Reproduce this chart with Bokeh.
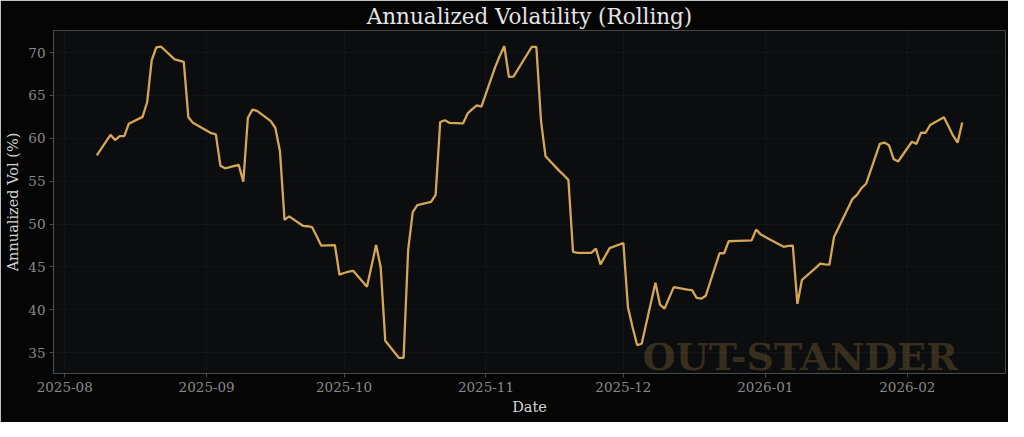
import pandas as pd
from bokeh.plotting import figure
from bokeh.models import Range1d, Label, DatetimeTickFormatter, MonthsTicker, SingleIntervalTicker
from bokeh.embed import file_html
from bokeh.resources import INLINE

title = "Annualized Volatility (Rolling)"
x_label = "Date"
y_label = "Annualized Vol (%)"
watermark = "OUT-STANDER"

dates = [
    "2025-08-08", "2025-08-11", "2025-08-12", "2025-08-13", "2025-08-14", "2025-08-15",
    "2025-08-18", "2025-08-19", "2025-08-20", "2025-08-21", "2025-08-22",
    "2025-08-25", "2025-08-26", "2025-08-27", "2025-08-28", "2025-08-29",
    "2025-09-02", "2025-09-03", "2025-09-04", "2025-09-05",
    "2025-09-08", "2025-09-09", "2025-09-10", "2025-09-11", "2025-09-12",
    "2025-09-15", "2025-09-16", "2025-09-17", "2025-09-18", "2025-09-19",
    "2025-09-22", "2025-09-23", "2025-09-24", "2025-09-25", "2025-09-26",
    "2025-09-29", "2025-09-30", "2025-10-01", "2025-10-02", "2025-10-03",
    "2025-10-06", "2025-10-07", "2025-10-08", "2025-10-09", "2025-10-10",
    "2025-10-13", "2025-10-14", "2025-10-15", "2025-10-16", "2025-10-17",
    "2025-10-20", "2025-10-21", "2025-10-22", "2025-10-23", "2025-10-24",
    "2025-10-27", "2025-10-28", "2025-10-29", "2025-10-30", "2025-10-31",
    "2025-11-03", "2025-11-04", "2025-11-05", "2025-11-06", "2025-11-07",
    "2025-11-10", "2025-11-11", "2025-11-12", "2025-11-13", "2025-11-14",
    "2025-11-17", "2025-11-18", "2025-11-19", "2025-11-20", "2025-11-21",
    "2025-11-24", "2025-11-25", "2025-11-26", "2025-11-28",
    "2025-12-01", "2025-12-02", "2025-12-03", "2025-12-04", "2025-12-05",
    "2025-12-08", "2025-12-09", "2025-12-10", "2025-12-11", "2025-12-12",
    "2025-12-15", "2025-12-16", "2025-12-17", "2025-12-18", "2025-12-19",
    "2025-12-22", "2025-12-23", "2025-12-24", "2025-12-26",
    "2025-12-29", "2025-12-30", "2025-12-31", "2026-01-02",
    "2026-01-05", "2026-01-06", "2026-01-07", "2026-01-08", "2026-01-09",
    "2026-01-12", "2026-01-13", "2026-01-14", "2026-01-15", "2026-01-16",
    "2026-01-20", "2026-01-21", "2026-01-22", "2026-01-23",
    "2026-01-26", "2026-01-27", "2026-01-28", "2026-01-29", "2026-01-30",
    "2026-02-02", "2026-02-03", "2026-02-04", "2026-02-05", "2026-02-06",
    "2026-02-09", "2026-02-10", "2026-02-11", "2026-02-12", "2026-02-13",
]

vol = [
    58.0, 60.4, 59.8, 60.25, 60.25, 61.7,
    62.5, 64.2, 69.1, 70.6, 70.7,
    69.2, 69.05, 68.9, 62.45, 61.8,
    60.6, 60.45, 56.8, 56.5,
    56.9, 54.95, 62.4, 63.35, 63.2,
    62.0, 61.2, 58.5, 50.5, 50.9,
    49.8, 49.75, 49.65, 48.6, 47.5,
    47.55, 44.1, 44.3, 44.45, 44.55,
    42.7, 45.1, 47.55, 45.0, 36.4,
    34.4, 34.4, 47.0, 51.4, 52.2,
    52.6, 53.4, 61.9, 62.1, 61.8,
    61.75, 62.9, 63.4, 63.85, 63.7,
    68.3, 69.6, 70.75, 67.15, 67.2,
    69.8, 70.65, 70.65, 62.1, 57.9,
    56.2, 55.7, 55.15, 46.75, 46.65,
    46.65, 47.15, 45.3, 47.2,
    47.8, 40.3, 38.0, 35.9, 36.05,
    43.15, 40.6, 40.15, 41.4, 42.65,
    42.35, 42.3, 41.4, 41.3, 41.65,
    46.6, 46.6, 48.0, 48.05,
    48.1, 49.35, 48.8, 48.2,
    47.35, 47.45, 47.5, 40.7, 43.5,
    44.9, 45.4, 45.3, 45.27, 48.5,
    52.9, 53.4, 54.2, 54.7,
    59.35, 59.5, 59.2, 57.6, 57.3,
    59.6, 59.35, 60.65, 60.65, 61.55,
    62.45, 61.4, 60.3, 59.5, 61.85,
]

x = pd.to_datetime(dates)

# matplotlib-like 5% padding computed from data
xmin, xmax = x.min(), x.max()
xpad = (xmax - xmin) * 0.05
ymin, ymax = min(vol), max(vol)
ypad = (ymax - ymin) * 0.05
x_range = Range1d(xmin - xpad, xmax + xpad)
y_range = Range1d(ymin - ypad, ymax + ypad)

FONT = "DejaVu Serif"
GOLD = "#d4a656"

p = figure(
    frame_width=952, frame_height=343,
    x_range=x_range, y_range=y_range,
    x_axis_type="datetime",
    output_backend="svg", toolbar_location=None,
    min_border_left=53, min_border_right=3, min_border_top=29, min_border_bottom=49,
    background_fill_color="#0c0d0f", border_fill_color="#050505",
    outline_line_color=None,
)

p.title.text = title
p.title.align = "center"
p.title.text_font = FONT
p.title.text_font_size = "21.5px"
p.title.text_font_style = "normal"
p.title.text_color = "#e4e4e4"
p.title.standoff = 3

p.line(x, vol, line_color=GOLD, line_width=2.3)

# watermark positioned relative to axes ranges
wx = x_range.end - (x_range.end - x_range.start) * 0.05
wy = y_range.start + (y_range.end - y_range.start) * 0.05
p.add_layout(Label(x=wx, y=wy, text=watermark, text_align="right", text_baseline="alphabetic",
                   text_font=FONT, text_font_size="38px", text_font_style="bold",
                   text_color=GOLD, text_alpha=0.22))

p.xaxis.ticker = MonthsTicker(months=list(range(1, 13)))
p.xaxis.formatter = DatetimeTickFormatter(months="%Y-%m", days="%Y-%m")
p.yaxis.ticker = SingleIntervalTicker(interval=5, num_minor_ticks=0)

for ax in (p.xaxis[0], p.yaxis[0]):
    ax.axis_line_color = "#4a4a4a"
    ax.axis_line_width = 1.2
    ax.major_tick_line_color = "#4a4a4a"
    ax.major_tick_in = 0
    ax.major_tick_out = 4
    ax.minor_tick_line_color = None
    ax.major_label_text_font = FONT
    ax.major_label_text_font_size = "13.5px"
    ax.major_label_text_color = "#8a8a8a"
    ax.axis_label_text_font = FONT
    ax.axis_label_text_font_size = "14.5px"
    ax.axis_label_text_font_style = "normal"
    ax.axis_label_text_color = "#d6d6d6"
    ax.major_label_standoff = 4
    ax.axis_label_standoff = 4

p.xaxis.axis_label = x_label
p.yaxis.axis_label = y_label

for g in (p.xgrid[0], p.ygrid[0]):
    g.grid_line_color = "#ffffff"
    g.grid_line_alpha = 0.06
    g.grid_line_dash = "2 2"
    g.grid_line_width = 1

open("out.html", "w").write(file_html(p, INLINE))
